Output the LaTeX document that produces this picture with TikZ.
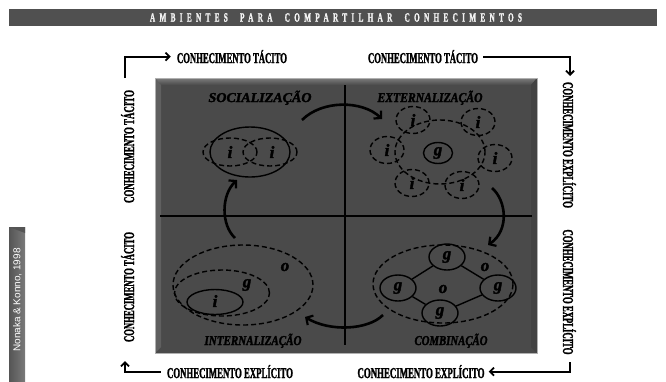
\documentclass[tikz,border=0pt]{standalone}
\usepackage{fontspec}
\usepackage{graphicx}
\usetikzlibrary{shapes.geometric,arrows.meta}
\setmainfont{Liberation Serif}
\newfontfamily\heavyf{Liberation Serif}[FakeBold=2.2]
\newfontfamily\creditf{Liberation Sans}
\definecolor{barbg}{HTML}{505050}
\definecolor{panel}{HTML}{4A4A4A}
\definecolor{panelhi}{HTML}{7C7C7C}
\definecolor{paneledge}{HTML}{B0B0B0}
\definecolor{creditbg}{HTML}{7A7A7A}
\definecolor{creditdk}{HTML}{555555}
\definecolor{titletext}{HTML}{F2F2F2}

% condensed heavy captions: natural height, forced width
\newcommand\axistext[2]{\resizebox{#1}{\height}{\heavyf\fontsize{15}{15}\selectfont\bfseries #2}}
\newcommand\modetext[2]{\resizebox{#1}{\height}{\heavyf\fontsize{13.5}{13.5}\selectfont\bfseries\itshape #2}}

\begin{document}
\begin{tikzpicture}[x=1pt,y=-1pt,
  ell/.style={ellipse, draw=black, line width=1.4pt, inner sep=0pt},
  dell/.style={ell, dash pattern=on 5pt off 3pt},
  lett/.style={font=\heavyf\fontsize{17}{17}\selectfont\bfseries\itshape, inner sep=0pt},
  txt/.style={inner sep=0pt, anchor=base},
  cyc/.style={line width=2.6pt, -{Straight Barb[length=5pt,width=11pt,line width=2.2pt]}},
  axl/.style={line width=1.8pt},
  axtip/.style={-{Straight Barb[length=4pt,width=8pt,line width=1.8pt]}},
  divider/.style={line width=2.8pt},
]
\useasboundingbox (0,0) rectangle (666,381);

% title bar
\fill[barbg] (9,9) rectangle (657,26);
\node[inner sep=0pt, text=titletext] (title) at (336,17.5)
  {\resizebox{372pt}{\height}{\heavyf\fontsize{12.5}{12.5}\selectfont\bfseries\addfontfeatures{LetterSpace=60}AMBIENTES\ \ PARA\ \ COMPARTILHAR\ \ CONHECIMENTOS}};

% credit bar
\shade[left color=creditdk, right color=creditbg] (9,227) rectangle (25,381);
\fill[creditdk] (9,227) -- (25,227) -- (25,233) -- cycle;
\node[rotate=90, text=white, inner sep=0pt, font=\creditf\fontsize{10}{10}\selectfont] (credit) at (17.5,300) {Nonaka \& Konno, 1998};

% panel with bevelled edges
\fill[panel] (155,78) rectangle (537,353);
\shade[top color=panelhi, bottom color=panel] (155,78) -- (537,78) -- (531,85) -- (161,85) -- cycle;
\fill[panel!88!white] (155,78) -- (161,85) -- (161,347) -- (155,353) -- cycle;
\fill[panel!90!black] (537,78) -- (531,85) -- (531,347) -- (537,353) -- cycle;
\draw[paneledge, line width=0.8pt] (155,78) rectangle (537,353);

% quadrant dividers
\coordinate (vtop) at (345,85);
\coordinate (vbot) at (345,345);
\coordinate (hleft) at (160,216);
\coordinate (hright) at (532,216);
\draw[divider] (vtop) -- (vbot);
\draw[divider] (hleft) -- (hright);

% quadrant titles
\node[txt] (socl) at (260,102) {\modetext{103pt}{SOCIALIZAÇÃO}};
\node[txt] (extl) at (430,102) {\modetext{105pt}{EXTERNALIZAÇÃO}};
\node[txt] (intl) at (253,345) {\modetext{97pt}{INTERNALIZAÇÃO}};
\node[txt] (coml) at (451,345) {\modetext{73pt}{COMBINAÇÃO}};

% socialisation: two individuals sharing
\node[dell, minimum width=54pt, minimum height=28pt] (sd1) at (230,152) {};
\node[dell, minimum width=54pt, minimum height=28pt] (sd2) at (270,152) {};
\node[ell, minimum width=80pt, minimum height=50pt] (sgrp) at (250,152) {};
\node[lett] (si1) at (230,152) {i};
\node[lett] (si2) at (272,152) {i};

% externalisation: individuals around a group
\node[dell, minimum width=90pt, minimum height=64pt] (ering) at (440,152) {};
\node[ell, minimum width=29pt, minimum height=21pt] (eg) at (438,153) {};
\node[lett] at (eg) {g};
\foreach \n/\px/\py in {1/413/120, 2/478/122, 3/387/150, 4/495/158, 5/412/183, 6/462/185}{
  \node[dell, minimum width=34pt, minimum height=27pt] (ec\n) at (\px,\py) {};
  \node[lett] (ei\n) at (ec\n) {i};
}

% internalisation: nested individual, group, organisation
\node[dell, minimum width=140pt, minimum height=80pt] (io) at (243,285) {};
\node[dell, minimum width=95pt, minimum height=46pt] (ig) at (222,293) {};
\node[ell, minimum width=56pt, minimum height=25pt] (ii) at (215,302) {};
\node[lett] (iol) at (285,267) {o};
\node[lett] (igl) at (247,285) {g};
\node[lett] (iil) at (215,301) {i};

% combination: groups linked inside the organisation
\node[dell, minimum width=140pt, minimum height=78pt] (co) at (443,284) {};
\node[ell, minimum width=36pt, minimum height=26pt] (cgt) at (447,257) {};
\node[ell, minimum width=36pt, minimum height=26pt] (cgl) at (398,288) {};
\node[ell, minimum width=36pt, minimum height=26pt] (cgr) at (498,288) {};
\node[ell, minimum width=36pt, minimum height=26pt] (cgb) at (440,313) {};
\foreach \g in {cgt,cgl,cgr,cgb} \node[lett] at (\g) {g};
\draw[line width=1.4pt] (cgt) -- (cgl) (cgt) -- (cgr) (cgb) -- (cgl) (cgb) -- (cgr);
\node[lett] (col1) at (443,289) {o};
\node[lett] (col2) at (485,267) {o};

% knowledge spiral arrows
\coordinate (a1s) at (302,120); \coordinate (a1e) at (382,119);
\coordinate (a2s) at (492,188); \coordinate (a2e) at (488,245);
\coordinate (a3s) at (383,315); \coordinate (a3e) at (305,317);
\coordinate (a4s) at (235,238); \coordinate (a4e) at (237,180);
\draw[cyc] (a1s) .. controls (322,100) and (362,100) .. (a1e);
\draw[cyc] (a2s) .. controls (506,200) and (510,230) .. (a2e);
\draw[cyc] (a3s) .. controls (368,330) and (330,332) .. (a3e);
\draw[cyc] (a4s) .. controls (221,225) and (221,195) .. (a4e);

% outer axis captions
\node[txt] (tl) at (232,63) {\axistext{110pt}{CONHECIMENTO TÁCITO}};
\node[txt] (tr) at (423,63) {\axistext{110pt}{CONHECIMENTO TÁCITO}};
\node[txt] (bl) at (230,378) {\axistext{126pt}{CONHECIMENTO EXPLÍCITO}};
\node[txt] (br) at (421,378) {\axistext{127pt}{CONHECIMENTO EXPLÍCITO}};
\node[txt, rotate=90] (lu) at (134,146.5) {\axistext{113pt}{CONHECIMENTO TÁCITO}};
\node[txt, rotate=90] (ld) at (134,287) {\axistext{110pt}{CONHECIMENTO TÁCITO}};
\node[txt, rotate=-90] (ru) at (563,145) {\axistext{126pt}{CONHECIMENTO EXPLÍCITO}};
\node[txt, rotate=-90] (rd) at (563,292) {\axistext{125pt}{CONHECIMENTO EXPLÍCITO}};

% outer axis arrows
\coordinate (ctl) at (125,78);
\coordinate (ctr) at (570,76);
\coordinate (cbr) at (570,362);
\coordinate (cbl) at (125,361);
\draw[axl,axtip,shorten >=6pt] (ctl) |- (tl.west);
\draw[axl,axtip,shorten <=5pt] (tr.east) -| (ctr);
\draw[axl,axtip,shorten >=4pt] (cbr) |- (br.east);
\draw[axl,axtip,shorten <=6pt] (bl.west) -| (cbl);
\end{tikzpicture}
\end{document}
